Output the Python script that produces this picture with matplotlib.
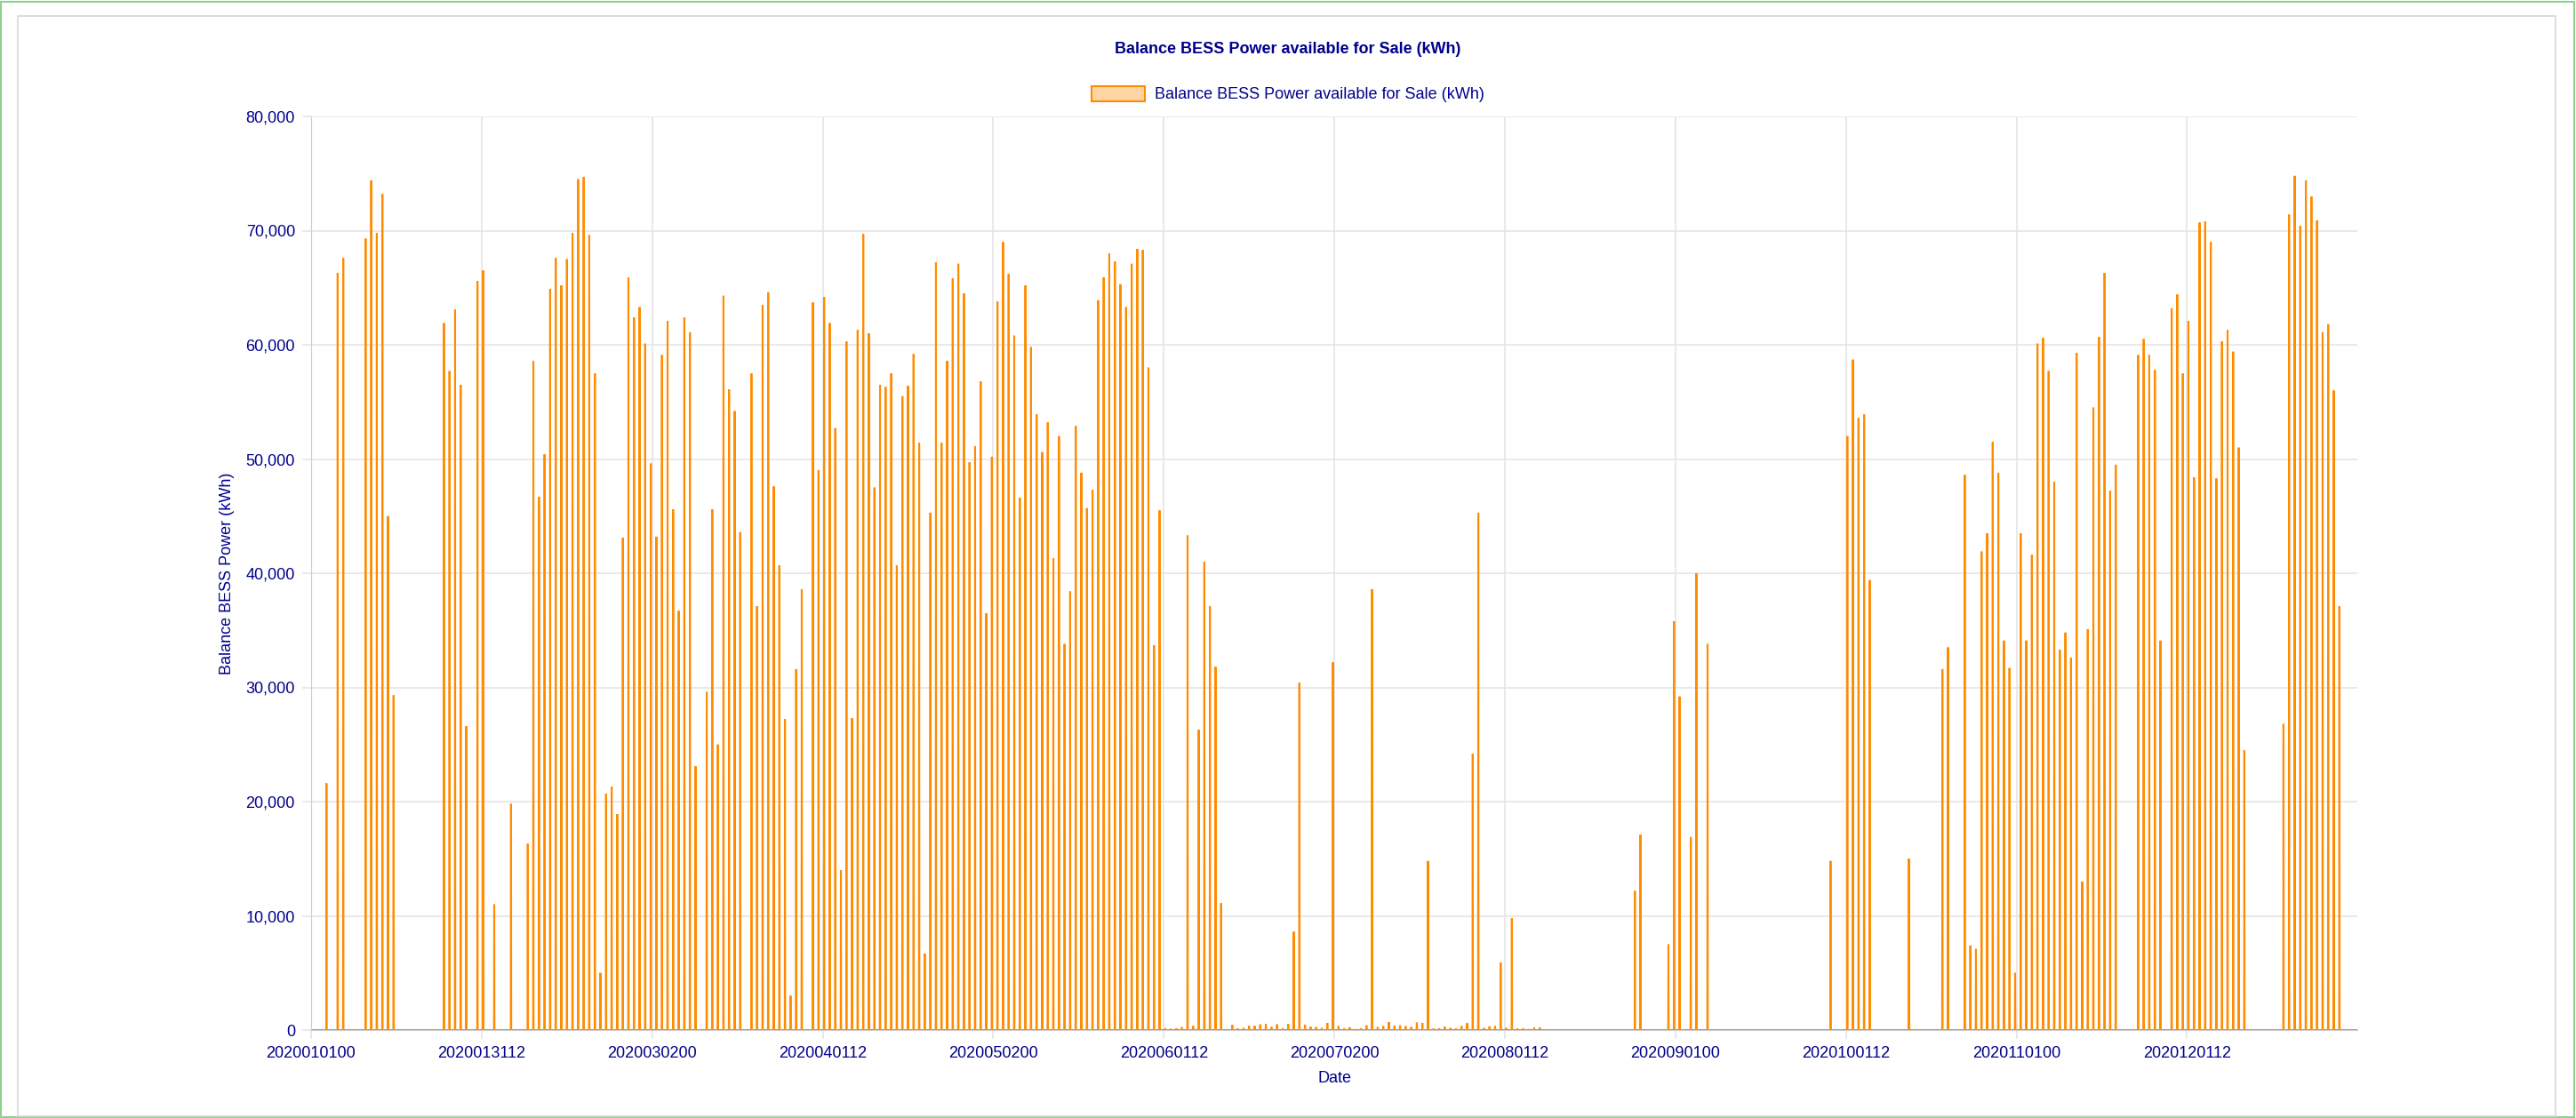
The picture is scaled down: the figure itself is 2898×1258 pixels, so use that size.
import numpy as np
import matplotlib
matplotlib.use("Agg")
import matplotlib.pyplot as plt
from matplotlib.patches import Patch, Rectangle
from matplotlib.ticker import FuncFormatter

# Daily values (kWh) of "Balance BESS Power available for Sale", one spike per day
jan = [0, 0, 21600, 0, 66300, 67600, 0, 0, 0, 69300, 74400, 69800, 73200, 45000, 29300,
       0, 0, 0, 0, 0, 0, 0, 0, 61900, 57700, 63100, 56500, 26600, 0, 65600, 66500]
feb = [0, 11000, 0, 0, 19800, 0, 0, 16300, 58600, 46700, 50400, 64900, 67600, 65200, 67500,
       69800, 74500, 74700, 69600, 57500, 5000, 20700, 21300, 18900, 43100, 65900, 62400, 63300, 60100]
mar = [49600, 43200, 59100, 62100, 45600, 36700, 62400, 61100, 23100, 0, 29600, 45600, 25000,
       64300, 56100, 54200, 43600, 0, 57500, 37100, 63500, 64600, 47600, 40700, 27200, 3000,
       31600, 38600, 0, 63700, 49000]
apr = [64200, 61900, 52700, 14000, 60300, 27300, 61300, 69700, 61000, 47500, 56500, 56300,
       57500, 40700, 55500, 56400, 59200, 51400, 6700, 45300, 67200, 51400, 58600, 65800,
       67100, 64500, 49700, 51100, 56800, 36500]
may = [50200, 63800, 69000, 66200, 60800, 46600, 65200, 59800, 53900, 50600, 53200, 41300,
       52000, 33800, 38400, 52900, 48800, 45700, 47300, 63900, 65900, 68000, 67300, 65300,
       63300, 67100, 68400, 68300, 58000, 33700, 45500]
jun = [150, 100, 150, 250, 43300, 350, 26300, 41000, 37100, 31800, 11100, 50, 440, 130, 180,
       360, 360, 490, 520, 260, 490, 155, 520, 8600, 30400, 470, 285, 260, 180, 620]
jul = [32200, 340, 155, 230, 80, 155, 410, 38600, 260, 340, 700, 360, 410, 340, 260, 650, 620,
       14800, 130, 155, 285, 180, 155, 340, 600, 24200, 45300, 180, 320, 340, 5900]
aug = [180, 9800, 130, 130, 80, 230, 210, 0, 0, 0, 0, 0, 0, 0, 0, 0, 0, 0, 0, 0, 0, 0, 0,
       12200, 17100, 0, 0, 0, 0, 7500, 35800]
sep = [29200, 0, 16900, 40000, 0, 33800, 0, 0, 0, 0, 0, 0, 0, 0, 0, 0, 0, 0, 0, 0, 0, 0, 0,
       0, 0, 0, 0, 14800, 0, 0]
oct_ = [52000, 58700, 53600, 53900, 39400, 0, 0, 0, 0, 0, 0, 15000, 0, 0, 0, 0, 0, 31600,
        33500, 0, 0, 48600, 7400, 7100, 41900, 43500, 51500, 48800, 34100, 31700, 5000]
nov = [43500, 34100, 41600, 60100, 60600, 57700, 48000, 33300, 34800, 32600, 59300, 13000,
       35100, 54500, 60700, 66300, 47200, 49500, 0, 0, 0, 59100, 60500, 59100, 57800, 34100,
       0, 63200, 64400, 57500]
dec = [62100, 48400, 70700, 70800, 69000, 48300, 60300, 61300, 59400, 51000, 24500, 0, 0, 0,
       0, 0, 0, 26800, 71400, 74800, 70400, 74400, 73000, 70900, 61100, 61800, 56000, 37100,
       0, 0, 0]

x_tick_labels = ["2020010100", "2020013112", "2020030200", "2020040112", "2020050200",
                 "2020060112", "2020070200", "2020080112", "2020090100", "2020100112",
                 "2020110100", "2020120112"]

title = "Balance BESS Power available for Sale (kWh)"
y_title = "Balance BESS Power (kWh)"
x_title = "Date"

daily = np.array(jan + feb + mar + apr + may + jun + jul + aug + sep + oct_ + nov + dec, dtype=float)
n_days = len(daily)
hourly = np.zeros(n_days * 24)
hourly[np.arange(n_days) * 24 + 18] = daily
hours = np.arange(n_days * 24)

TXT = "#00008B"
ORANGE = "#FF8C00"
GRID = "#e5e5e5"
FS = 13

plt.rcParams["font.family"] = ["Liberation Sans", "DejaVu Sans"]

W, H = 2898, 1258
fig = plt.figure(figsize=(W / 100, H / 100), dpi=100)
fig.patch.set_facecolor("white")

# outer green frame and inner grey frame
fig.patches.append(Rectangle((1 / W, 1 / H), 1 - 3 / W, 1 - 3 / H, transform=fig.transFigure,
                             fill=False, edgecolor="#8fd18f", linewidth=1.5))
fig.patches.append(Rectangle((20 / W, 2 / H), 1 - 43 / W, 1 - 20 / H, transform=fig.transFigure,
                             fill=False, edgecolor="#d6d6d6", linewidth=1.2))

left, right, top, bottom = 350, 2652, 131, 1159
ax = fig.add_axes([left / W, 1 - bottom / H, (right - left) / W, (bottom - top) / H])

ax.plot(hours, hourly, color=ORANGE, linewidth=1.5, solid_joinstyle="miter")

ax.set_xlim(0, hours[-1])
ax.set_ylim(0, 80000)
ax.set_yticks(np.arange(0, 80001, 10000))
ax.yaxis.set_major_formatter(FuncFormatter(lambda v, p: f"{int(v):,}"))
ax.set_xticks(np.arange(len(x_tick_labels)) * 732)
ax.set_xticklabels(x_tick_labels)

ax.grid(True, color=GRID, linewidth=1.2)
ax.set_axisbelow(True)
for s in ["top", "right"]:
    ax.spines[s].set_visible(False)
ax.spines["left"].set_color("#cccccc")
ax.spines["bottom"].set_color("#cccccc")
ax.tick_params(axis="both", colors=GRID, labelcolor=TXT, labelsize=FS, length=7, width=1.2, pad=6)

ax.set_ylabel(y_title, color=TXT, fontsize=FS, labelpad=9)
ax.set_xlabel(x_title, color=TXT, fontsize=FS, labelpad=8)

fig.text(1449 / W, 1 - 56 / H, title, ha="center", va="center", color=TXT,
         fontsize=FS, fontweight="bold")

handle = Patch(facecolor="#FFD6A3", edgecolor=ORANGE, linewidth=1.5, label=title)
fig.legend(handles=[handle], loc="center", bbox_to_anchor=(1449 / W, 1 - 106 / H),
           frameon=False, fontsize=FS, labelcolor=TXT, handlelength=3.3, handleheight=1.1,
           handletextpad=0.6)

fig.savefig("out.png", dpi=100, facecolor="white")
